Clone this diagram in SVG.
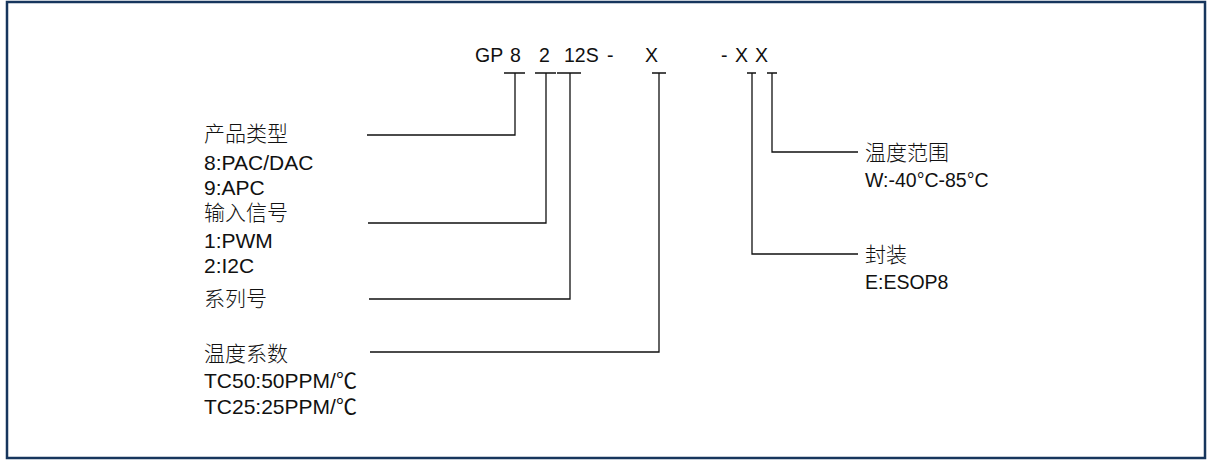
<svg xmlns="http://www.w3.org/2000/svg" width="1208" height="461" viewBox="0 0 1208 461">
<style>
text{font-family:"Liberation Sans","Noto Sans CJK SC",Arial,sans-serif;font-size:21px;fill:#111}
.top{font-size:19.5px}
.r{font-size:19.5px}
.cjk{font-weight:300}
.c{fill:none;stroke:#111;stroke-width:1.3}
</style>
<rect x="0" y="0" width="1208" height="461" fill="#fff"/>
<rect x="7" y="2" width="1198" height="456" fill="none" stroke="#17365D" stroke-width="2.5"/>
<g id="code">
<text class="top" y="62"><tspan x="475">GP</tspan><tspan x="510">8</tspan><tspan x="539">2</tspan><tspan x="564">12S</tspan><tspan x="607">-</tspan><tspan x="645">X</tspan><tspan x="721">-</tspan><tspan x="735">X</tspan><tspan x="755">X</tspan></text>
</g>
<g id="connectors">
<path class="c" d="M504 73H525M515 73V135H367"/>
<path class="c" d="M535 73H556M546 73V223H368"/>
<path class="c" d="M557 73H581M570 73V299H369"/>
<path class="c" d="M652 73H666M659 73V352H370"/>
<path class="c" d="M747 73H756M752 73V254H858"/>
<path class="c" d="M767 73H777M772 73V152H858"/>
</g>
<g id="product-type"><text class="cjk" x="204" y="141">产品类型</text><text x="204" y="170">8:PAC/DAC</text><text x="204" y="195">9:APC</text></g>
<g id="input-signal"><text class="cjk" x="204" y="220">输入信号</text><text x="204" y="248">1:PWM</text><text x="204" y="273">2:I2C</text></g>
<g id="series"><text class="cjk" x="204" y="306">系列号</text></g>
<g id="temp-coef"><text class="cjk" x="204" y="361">温度系数</text><text x="204" y="388">TC50:50PPM/℃</text><text x="204" y="414">TC25:25PPM/℃</text></g>
<g id="temp-range"><text class="cjk" x="865" y="160">温度范围</text><text class="r" x="865" y="187">W:-40°C-85°C</text></g>
<g id="package"><text class="cjk" x="865" y="262">封装</text><text class="r" x="865" y="289">E:ESOP8</text></g>
</svg>
